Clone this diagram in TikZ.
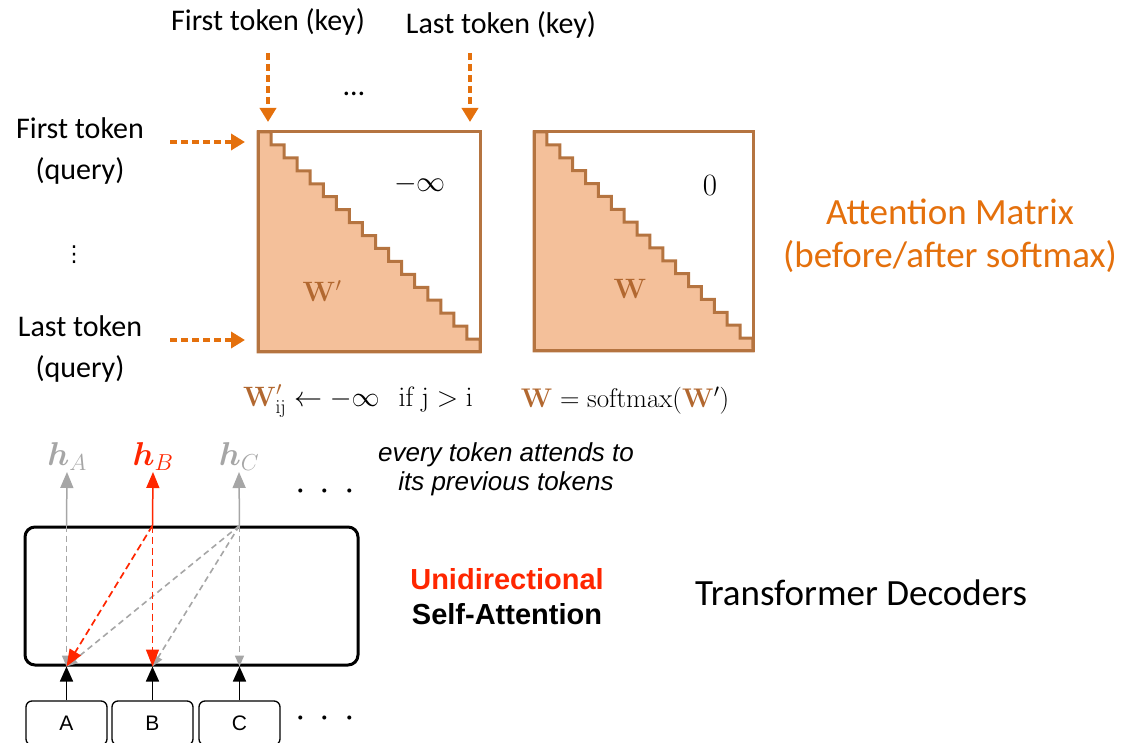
\RequirePackage{fix-cm}
\documentclass[tikz,border=0pt]{standalone}
\usepackage{amsmath}
\usepackage{bm}
\usepackage[no-math]{fontspec}
\setmainfont{Carlito}
\newfontfamily\arialf{Liberation Sans}
\newfontfamily\dejavu{DejaVu Sans}
\usetikzlibrary{arrows.meta}
\definecolor{orng}{RGB}{228,112,12}
\definecolor{peach}{RGB}{244,192,154}
\definecolor{brwn}{RGB}{181,116,64}
\definecolor{wcol}{RGB}{178,104,48}
\definecolor{redc}{RGB}{255,38,0}
\definecolor{grayc}{RGB}{166,166,166}
\tikzset{
  oarr/.style={draw=orng, line width=3.5pt, dash pattern=on 7pt off 4pt, -{Triangle[length=14pt,width=16pt]}},
  mat/.style={draw=brwn, line width=3pt, fill=none, inner sep=0pt, outer sep=0pt, anchor=north west},
  lbl/.style={inner sep=0pt, align=center},
  tok/.style={draw, rounded corners=6pt, line width=1.3pt, minimum width=81pt, minimum height=44pt, inner sep=0pt, font=\arialf\fontsize{21}{24}\selectfont},
  uparr/.style={line width=1.5pt, -{Triangle[length=16pt,width=13pt]}},
  gdash/.style={draw=grayc, line width=1.6pt, dash pattern=on 6pt off 4pt, -{Triangle[length=11pt,width=9pt]}},
  rdash/.style={draw=redc, line width=1.7pt, dash pattern=on 7pt off 4pt, -{Triangle[length=17pt,width=13pt]}},
  blkarr/.style={line width=1.5pt, -{Triangle[length=15pt,width=13pt]}}
}
\begin{document}
\begin{tikzpicture}[x=1pt,y=-1pt]
\useasboundingbox (0,0) rectangle (1125,743);

% ---------- matrices ----------
\filldraw[fill=peach, draw=brwn, line width=3pt, line join=miter]
  (258,132) -- ++(13.06,0) \foreach \k in {1,...,16}{ -- ++(0,12.94) -- ++(13.06,0)} -- (480,352) -- (258,352) -- cycle;
\node[mat, minimum width=222pt, minimum height=220pt] (M1) at (258,132) {};

\filldraw[fill=peach, draw=brwn, line width=3pt, line join=miter]
  (534,132) -- ++(12.88,0) \foreach \k in {1,...,16}{ -- ++(0,12.88) -- ++(12.88,0)} -- (753,351) -- (534,351) -- cycle;
\node[mat, minimum width=219pt, minimum height=219pt] (M2) at (534,132) {};

\node[lbl, font=\fontsize{29}{30}\selectfont] (ninf) at (420,184) {$-\infty$};
\node[lbl, font=\fontsize{31}{32}\selectfont] (zero) at (710,186) {$0$};
\node[lbl, font=\fontsize{28}{30}\selectfont] (Wp) at (322,291) {$\color{wcol}\mathbf{W}'$};
\node[lbl, font=\fontsize{28}{30}\selectfont] (W) at (630,289) {$\color{wcol}\mathbf{W}$};

\node[lbl, font=\fontsize{28}{30}\selectfont] (f1) at (358,401) {$\color{wcol}\mathbf{W}'_{\color{black}\mathrm{ij}}\color{black} \leftarrow -\infty\ \ \ \mathrm{if}\ \mathrm{j}>\mathrm{i}$};
\node[lbl, font=\fontsize{27}{30}\selectfont] (f2) at (625,401) {$\color{wcol}\mathbf{W}\color{black} = \mathrm{softmax}(\color{wcol}\mathbf{W}\color{black}')$};

% ---------- key / query labels ----------
\node[lbl, font=\fontsize{30}{36}\selectfont] (k1) at (268,22) {First token (key)};
\node[lbl, font=\fontsize{30}{36}\selectfont] (k2) at (501,25) {Last token (key)};
\node[lbl, font=\fontsize{30}{36}\selectfont] (kdots) at (354,94) {…};
\coordinate (k1s) at (268,53);
\coordinate (k1e) at (268,122);
\coordinate (k2s) at (470,53);
\coordinate (k2e) at (470,122);
\draw[oarr] (k1s) -- (k1e);
\draw[oarr] (k2s) -- (k2e);

\node[lbl, font=\fontsize{30}{41}\selectfont] (q1) at (80,151) {First token\\(query)};
\node[lbl, font=\fontsize{30}{41}\selectfont] (q2) at (80,349) {Last token\\(query)};
\node[lbl, font=\dejavu\fontsize{22}{24}\selectfont] (qdots) at (74,255) {⋮};
\coordinate (q1s) at (170,142);
\coordinate (q1e) at (245,142);
\coordinate (q2s) at (170,340);
\coordinate (q2e) at (245,340);
\draw[oarr] (q1s) -- (q1e);
\draw[oarr] (q2s) -- (q2e);

\node[lbl, text=orng, font=\fontsize{37}{43}\selectfont] (am) at (950,236) {Attention Matrix\\(before/after softmax)};

% ---------- decoder ----------
\node[draw, line width=3pt, rounded corners=10pt, minimum width=333pt, minimum height=138pt, inner sep=0pt] (dec) at (191.5,596) {};

\node[tok] (tA) at (66.5,723) {A};
\node[tok] (tB) at (152.5,723) {B};
\node[tok] (tC) at (239.5,723) {C};

\node[anchor=south, inner sep=1pt, text=grayc, font=\fontsize{33}{35}\selectfont] (hA) at (67,472) {$\bm{h}_A$};
\node[anchor=south, inner sep=1pt, text=redc, font=\fontsize{33}{35}\selectfont] (hB) at (153,472) {$\bm{h}_B$};
\node[anchor=south, inner sep=1pt, text=grayc, font=\fontsize{33}{35}\selectfont] (hC) at (239,472) {$\bm{h}_C$};

\coordinate (topA) at (dec.north -| tA.north);
\coordinate (topB) at (dec.north -| tB.north);
\coordinate (topC) at (dec.north -| tC.north);
\coordinate (botA) at (dec.south -| tA.north);
\coordinate (botB) at (dec.south -| tB.north);
\coordinate (botC) at (dec.south -| tC.north);

\draw[gdash] (topA) -- (botA);
\draw[gdash] (topC) -- (botA);
\draw[gdash] (topC) -- (botB);
\draw[gdash] (topC) -- (botC);
\draw[rdash] (topB) -- (botA);
\draw[rdash] (topB) -- (botB);

\draw[uparr, draw=grayc, fill=grayc] (topA) -- (hA.south);
\draw[uparr, draw=redc, fill=redc] (topB) -- (hB.south);
\draw[uparr, draw=grayc, fill=grayc] (topC) -- (hC.south);

\draw[blkarr] (tA.north) -- (botA);
\draw[blkarr] (tB.north) -- (botB);
\draw[blkarr] (tC.north) -- (botC);

\node[lbl, font=\fontsize{38}{40}\selectfont] (dots1) at (325,492) {$\cdot$\hspace{14pt}$\cdot$\hspace{14pt}$\cdot$};
\node[lbl, font=\fontsize{38}{40}\selectfont] (dots2) at (325,719) {$\cdot$\hspace{14pt}$\cdot$\hspace{14pt}$\cdot$};

\node[lbl, font=\arialf\itshape\fontsize{26}{29}\selectfont] (note) at (506,469) {every token attends to\\its previous tokens};
\node[lbl, font=\arialf\bfseries\fontsize{29}{35}\selectfont] (uni) at (507,597) {\textcolor{redc}{Unidirectional}\\Self-Attention};
\node[lbl, font=\fontsize{37}{43}\selectfont] (td) at (861,593) {Transformer Decoders};
\end{tikzpicture}
\end{document}
